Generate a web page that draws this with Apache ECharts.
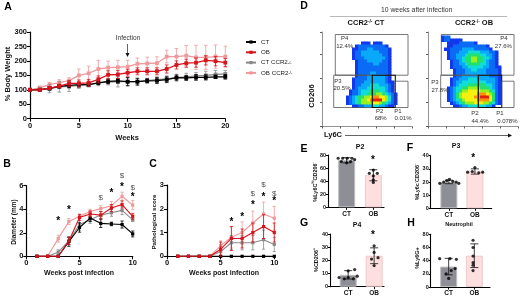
<!DOCTYPE html>
<html><head><meta charset="utf-8">
<style>html,body{margin:0;padding:0;background:#fff;overflow:hidden}#c{width:520px;height:297px;filter:blur(0.35px)}</style>
<script src="https://cdn.jsdelivr.net/npm/echarts@6/dist/echarts.min.js"></script>
</head><body><div id="c"></div>
<script>
// ---------- Panel A ----------
const weeksA=[0,1,2,3,4,5,6,7,8,9,10,11,12,13,14,15,16,17,18,19,20];
const aCT=[100,100,105,112,115,118,118,124,129,131,128,128,131,132,135,142,141,143,143,145,145];
const aCTe=[0,3,6,6,8,8,6,6,8,8,14,12,7,10,10,9,8,10,9,6,8];
const aOB=[100,100,106,113,122,122,124,136,152,153,159,164,164,164,172,186,192,194,202,199,194];
const aOBe=[0,3,5,6,10,12,12,12,14,14,12,12,12,12,14,14,14,16,16,16,14];
const aCK=[100,102,104,110,112,115,118,124,127,128,128,128,132,135,138,142,145,148,150,153,155];
const aCKe=[0,4,14,18,18,10,8,10,10,18,14,10,8,10,10,12,12,12,14,14,12];
const aOK=[100,107,118,125,132,150,157,172,177,178,180,190,191,192,215,215,218,212,212,215,215];
const aOKe=[0,6,8,10,10,22,25,30,22,24,22,20,22,22,22,28,35,42,42,40,36];
// ---------- Panel B ----------
const weeksB=[1,2,3,4,5,6,7,8,9,10];
const bCT=[0,0,0,1.25,2.45,3.25,2.8,2.75,2.7,1.9];
const bCTe=[0,0,.05,.4,.4,.3,.35,.15,.3,.25];
const bOB=[0,0,0,1.3,3.3,3.6,3.5,4.1,4.4,3.4];
const bOBe=[0,0,0,.3,.25,.25,.3,.3,.3,.25];
const bCK=[0,0,.35,1.3,2.7,3.1,3.5,3.7,3.9,3.1];
const bCKe=[0,0,.2,.3,.5,.3,.3,.3,.35,.15];
const bOK=[0,0,1.5,2.95,3.4,3.8,4.05,4.3,5.1,4.35];
const bOKe=[0,0,.3,.25,.2,.2,.25,.35,.35,.4];
const bStars=[[3,3.0],[4,3.9],[8,5.4],[9,5.9],[10,5.0]];
const bDollars=[[7,5.0],[9,6.8],[10,5.8]];
// ---------- Panel C ----------
const cCT=[0,0,0,0,0,0,0,0,0,0];
const cOB=[0,0,0,0,.3,.75,.75,1.0,1.25,1.0];
const cOBe=[0,0,0,0,.3,.5,.4,.4,.5,.4];
const cCK=[0,0,0,0,.2,.57,.57,.57,.7,.5];
const cCKe=[0,0,0,0,.2,.3,.3,.3,.4,.3];
const cOK=[0,0,0,0,.45,.8,1.0,1.4,1.78,1.6];
const cOKe=[0,0,0,0,.2,.45,.45,.5,.5,.5];
const cStars=[[6,1.45],[7,1.65],[8,2.15],[9,2.5],[10,2.3]];
const cDollars=[[8,2.65],[9,3.0],[10,2.65]];
// ---------- Panel D density levels (0-9 by row, top to bottom) ----------
const flowCT=[
".....111.111.....",
"...12222222221...",
"..1122233222221..",
"..1223333332221..",
"..1223333333221..",
"..1222333333321..",
"...122233333221..",
"...122222332221..",
"...122222222221..",
"...122222222221..",
"...122223322221..",
"...122233333321..",
"..1222233333321..",
"..12223333333211.",
"..12233344433321.",
"..12333444444321.",
".122344455544321.",
".1223445556654321",
"12345566788776421",
"12345667899976421",
"12345666677654321",
"..11223334433211."];
const flowOB=[
"122.................",
"1221111.............",
"..1111222221........",
"..11222222222221....",
".1122223333222221...",
"..12223334444333221.",
"..12233345555443321.",
"..12233455665544321.",
"...1223455665543221.",
"...1223345555443221.",
"...12223344444332211",
"....1222334433322221",
"....1222333333322221",
"....1223333333332221",
"...12233344433333321",
"...12334444444433321",
"...12344455555544321",
"..123445566665554321",
"..123456677776665421",
"..123567777788876521",
"..123567777889997521",
"..123456777788887521",
"...12345666777665421",
"....11233444444331.."];
const densityColors=['#ffffff','#1238ee','#0a6cf5','#0aa8f8','#10dcd8','#22e070','#96f020','#f6f010','#ff9010','#e42010'];
const gatesCT=[[13.3,92,86,51.3],[11.7,51.3,50.3,19],[50.3,51.3,73.3,19],[73.3,45.3,86,19]];
const gatesOB=[[13.3,92,86,51.3],[12.7,51.3,50.3,19],[50.3,51.3,73.7,19],[73.7,45.3,86,19]];
// ---------- Panels E-H ----------
const barCats=['CT','OB'];
const eMeans=[72,49], eErr=[4,8.5];
const fMeans=[20,28], fErr=[1.3,2];
const gMeans=[9,23.5], gErr=[3.2,6];
const hMeans=[31,47.5], hErr=[12.5,18];
const ePts=[[.38,75],[.55,75],[.72,75],[.9,75],[1,73],[.5,70],[.7,68],[.85,70],[1.7,57],[1.55,52],[1.85,52],[1.7,48],[1.7,42],[1.7,38]];
const fPts=[[.35,19],[.5,20],[.62,21],[.72,22],[.85,20.5],[.98,20],[1.08,19],[1.7,31],[1.42,27.5],[1.6,28],[1.85,27],[2,27.5]];
const gPts=[[.7,12],[.95,13],[.35,7],[.55,6],[.7,7],[.9,6],[1.05,8],[1.7,31],[1.7,26],[1.6,21],[1.85,22],[1.7,16]];
const hPts=[[.35,43],[.75,43],[1.0,42],[.95,28],[.8,25],[.6,20],[.7,13],[1.65,71],[1.65,60],[1.65,47],[1.65,37],[1.65,33],[1.65,25]];

const BLACK='#000', RED='#d8131b', GREY='#8a8a8a', PINK='#f0989b';
const NAMES=['CT','OB','CT CCR2','OB CCR2'];
const font='"Liberation Sans",Arial,sans-serif';
const chart=echarts.init(document.getElementById('c'),null,{renderer:'canvas'});

function valAxis(gi,min,max,iv,extra){return Object.assign({type:'value',gridIndex:gi,min,max,interval:iv,
  axisLine:{show:true,lineStyle:{color:'#000',width:1.2}},axisTick:{show:true,length:3,lineStyle:{color:'#000',width:1.1}},
  axisLabel:{show:true,color:'#111',fontFamily:font,fontWeight:'bold',fontSize:7.5,margin:3,hideOverlap:false,showMinLabel:true,showMaxLabel:true},splitLine:{show:false}},extra||{});}

function errSeries(gi,xs,ys,es,color,cap,z,lw){
  return {type:'custom',xAxisIndex:gi,yAxisIndex:gi,silent:true,z,clip:false,
    data:xs.map((x,i)=>[x,ys[i],es[i]]),encode:{x:0,y:1},
    renderItem(p,api){const x=api.value(0),y=api.value(1),e=api.value(2);
      const a=api.coord([x,y-e]),b=api.coord([x,y+e]);
      const st={stroke:color,lineWidth:lw||0.8,fill:'none'};
      return {type:'group',children:[
        {type:'line',shape:{x1:a[0],y1:a[1],x2:b[0],y2:b[1]},style:st},
        {type:'line',shape:{x1:a[0]-cap,y1:a[1],x2:a[0]+cap,y2:a[1]},style:st},
        {type:'line',shape:{x1:b[0]-cap,y1:b[1],x2:b[0]+cap,y2:b[1]},style:st}]};}};
}
function lineSeries(gi,name,xs,ys,color,z,sym,lw){
  return {type:'line',name,xAxisIndex:gi,yAxisIndex:gi,data:xs.map((x,i)=>[x,ys[i]]),z,clip:false,
    symbol:'rect',symbolSize:sym,lineStyle:{color,width:lw},itemStyle:{color},showSymbol:true,animation:false};
}
function panelLines(gi,xs,d,cap,sym,lw){
  const out=[];
  const order=[[3,PINK,2],[2,GREY,3],[0,BLACK,4],[1,RED,5]];
  order.forEach(([k,c,z])=>{
    if(d[k][1]) out.push(errSeries(gi,xs,d[k][0],d[k][1],c,cap,z,0.8));
    out.push(lineSeries(gi,NAMES[k],xs,d[k][0],c,z,sym,lw));
  });
  return out;
}
function marks(gi,pts,ch,color,size,weight){
  return {type:'custom',xAxisIndex:gi,yAxisIndex:gi,silent:true,clip:false,z:8,
    data:pts,encode:{x:0,y:1},
    renderItem(p,api){const a=api.coord([api.value(0),api.value(1)]);
      return {type:'text',x:a[0],y:a[1],style:{text:ch,fill:color,font:weight+' '+size+'px '+font,align:'center',verticalAlign:'middle'}};}};
}
function flowSeries(gi,rows,x0,y0,gates){
  const data=[];
  rows.forEach((r,ri)=>{for(let c=0;c<r.length;c++){const l=r[c]==='.'?0:+r[c];if(l>0)data.push([x0+c*3,y0-ri*3,l]);}});
  return [{type:'custom',xAxisIndex:gi,yAxisIndex:gi,silent:true,z:2,data,encode:{x:0,y:1},
    renderItem(p,api){const a=api.coord([api.value(0),api.value(1)]),b=api.coord([api.value(0)+3,api.value(1)-3]);
      return {type:'rect',shape:{x:a[0],y:a[1],width:b[0]-a[0]+.5,height:b[1]-a[1]+.5},style:{fill:densityColors[api.value(2)]}};}},
   {type:'custom',xAxisIndex:gi,yAxisIndex:gi,silent:true,z:3,data:gates,encode:{x:[0,2],y:[1,3]},
    renderItem(p,api){const a=api.coord([api.value(0),api.value(1)]),b=api.coord([api.value(2),api.value(3)]);
      return {type:'rect',shape:{x:a[0],y:a[1],width:b[0]-a[0],height:b[1]-a[1]},
        style:{fill:'none',stroke:p.dataIndex===2?'#111':'#555',lineWidth:p.dataIndex===2?1.1:0.8}};}}];
}
function barPanel(gi,means,errs,pts){
  const xs=[.7,1.7];
  return [{type:'bar',xAxisIndex:gi,yAxisIndex:gi,barWidth:17,z:2,
      data:[{value:[xs[0],means[0]],itemStyle:{color:'#8e8e96',borderColor:'#bdbdc0',borderWidth:1}},
            {value:[xs[1],means[1]],itemStyle:{color:'#fddfe0',borderColor:'#efc9c9',borderWidth:1}}]},
    errSeries(gi,xs,means,errs,'#111',4,5,0.8),
    {type:'scatter',xAxisIndex:gi,yAxisIndex:gi,symbol:'circle',symbolSize:3.2,z:6,itemStyle:{color:'#000'},data:pts}];
}
function barX(gi,max){return {type:'value',gridIndex:gi,min:0,max,
  axisLine:{show:true,lineStyle:{color:'#000',width:1.1}},splitLine:{show:false},
  axisTick:{show:true,length:2.5,customValues:[.7,1.7],lineStyle:{color:'#000'}},
  axisLabel:{show:true,customValues:[.7,1.7],formatter:v=>barCats[Math.round(v-.7)],color:'#111',fontFamily:font,fontWeight:'bold',fontSize:6.5,margin:3}};}
function barY(gi,max,iv){const a=valAxis(gi,0,max,iv);a.axisLabel.fontSize=5.5;a.axisLabel.margin=2;a.axisTick.length=2;a.axisLine.lineStyle.width=1.1;return a;}
function flowAxis(gi,max,iv){return {type:'value',gridIndex:gi,min:0,max,interval:iv,
  axisLine:{show:true,lineStyle:{color:'#777',width:.8}},axisTick:{show:true,length:2,lineStyle:{color:'#333',width:.8}},
  axisLabel:{show:false},splitLine:{show:false}};}

const grids=[
 {left:30,top:32,width:195.3,height:86.7},
 {left:26.3,top:185.7,width:106.4,height:70.6},
 {left:167,top:185,width:107.3,height:71.3},
 {left:322,top:32,width:90,height:94.5},
 {left:428,top:32,width:90,height:94.5},
 {left:328,top:155,width:56,height:52.3},
 {left:430.7,top:155.7,width:61,height:52.6},
 {left:330,top:234,width:54,height:52.7},
 {left:430.7,top:234.3,width:59.3,height:53}
].map(g=>Object.assign(g,{containLabel:false}));

const xAxis=[
 valAxis(0,0,20,5),valAxis(1,0,10,5),valAxis(2,0,10,5),
 flowAxis(3,90,18),flowAxis(4,90,18),
 barX(5,2.1),barX(6,2.346),barX(7,2.08),barX(8,2.31)];
const yAxis=[
 valAxis(0,0,300,50),valAxis(1,0,6,2),valAxis(2,0,3,1),
 flowAxis(3,94.5,24),flowAxis(4,94.5,24),
 barY(5,80,20),barY(6,40,10),barY(7,40,10),barY(8,80,20)];

const series=[
 ...panelLines(0,weeksA,[[aCT,aCTe],[aOB,aOBe],[aCK,aCKe],[aOK,aOKe]],1.8,3.8,1.3),
 ...panelLines(1,weeksB,[[bCT,bCTe],[bOB,bOBe],[bCK,bCKe],[bOK,bOKe]],1.6,3.2,1.1),
 ...panelLines(2,weeksB,[[cCT,null],[cOB,cOBe],[cCK,cCKe],[cOK,cOKe]],1.6,3.2,1.1),
 marks(1,bStars,'*','#000',10,'bold'),marks(1,bDollars,'$','#555',8,'normal'),
 marks(2,cStars,'*','#000',10,'bold'),marks(2,cDollars,'$','#555',8,'normal'),
 ...flowSeries(3,flowCT,24,85,gatesCT),
 ...flowSeries(4,flowOB,13,91,gatesOB),
 ...barPanel(5,eMeans,eErr,ePts),...barPanel(6,fMeans,fErr,fPts),
 ...barPanel(7,gMeans,gErr,gPts),...barPanel(8,hMeans,hErr,hPts)
];

function T(x,y,text,o){o=o||{};return {type:'text',x,y,rotation:o.rot||0,z:20,silent:true,
  style:{text,font:(o.w||'normal')+' '+(o.s||7)+'px '+font,fill:o.c||'#111',align:o.a||'center',verticalAlign:'middle',rich:o.rich}};}
const R90=Math.PI/2;
const sup=(s,w)=>({n:{font:(w||'bold')+' '+s+'px '+font,fill:'#111'},u:{font:(w||'bold')+' '+(s*.62)+'px '+font,fill:'#111',verticalAlign:'top',padding:[0,0,2,0]}});
const graphic=[
 ...[['A',8,7],['B',7,164],['C',153,164],['D',304,6],['E',304,149],['F',410,148],['G',304,223],['H',411,223]]
   .map(a=>T(a[1],a[2],a[0],{w:'bold',s:10.5,c:'#000'})),
 T(128,38,'Infection',{s:6.5,c:'#333'}),
 {type:'line',z:20,silent:true,shape:{x1:127.5,y1:44,x2:127.5,y2:54},style:{stroke:'#222',lineWidth:.7}},
 {type:'polygon',z:20,silent:true,shape:{points:[[125.5,53],[129.5,53],[127.5,57]]},style:{fill:'#111'}},
 T(127,138,'Weeks',{w:'bold',s:7.5}),
 T(7.5,74,'% Body Weight',{w:'bold',s:7.5,rot:R90}),
 T(14,222,'Diameter (mm)',{w:'bold',s:6.5,rot:R90}),
 T(79,273.5,'Weeks post infection',{w:'bold',s:7}),
 T(154,222,'Pathological score',{w:'bold',s:6.2,rot:R90}),
 T(224,273.5,'Weeks post infection',{w:'bold',s:7}),
 T(416.7,10,'10 weeks after infection',{s:6.8,c:'#333'}),
 {type:'line',z:20,silent:true,shape:{x1:330,y1:16.5,x2:507,y2:16.5},style:{stroke:'#999',lineWidth:.7}},
 T(366,23,'{n|CCR2}{u|-/-}{n| CT}',{rich:sup(7.5)}),
 T(474,23,'{n|CCR2}{u|-/-}{n| OB}',{rich:sup(7.5)}),
 T(312,96,'CD206',{w:'bold',s:7.5,rot:R90}),
 T(333,135,'Ly6C',{w:'bold',s:7.5}),
 {type:'line',z:20,silent:true,shape:{x1:345,y1:135.5,x2:509,y2:135.5},style:{stroke:'#222',lineWidth:.7}},
 {type:'polygon',z:20,silent:true,shape:{points:[[508,133.5],[508,137.5],[512,135.5]]},style:{fill:'#111'}},
 ...[[344.7,38,'P4'],[344.7,46,'12.4%'],[338,81.3,'P3'],[342,88.7,'20.5%'],[379.7,111.3,'P2'],[380.7,118.7,'68%'],[398,111.3,'P1'],[403,118.7,'0.01%'],
     [504,38,'P4'],[503.3,46.3,'27.6%'],[435,82.3,'P3'],[440,90,'27.8%'],[475,113.7,'P2'],[480,121.3,'44.4%'],[500,113.7,'P1'],[507.3,121.3,'0.078%']]
   .map(a=>T(a[0],a[1],a[2],{s:6,c:'#333'})),
 T(360,147,'P2',{w:'bold',s:7}),T(456,146,'P3',{w:'bold',s:7}),T(357,225,'P4',{w:'bold',s:7}),T(459,224.5,'Neutrophil',{w:'bold',s:5.5}),
 T(315,182,'{n|%Ly6C}{u|hi}{n|CD206}{u|-}',{rot:R90,rich:sup(5.5)}),
 T(417,182,'{n|%Ly6c}{u|-}{n|CD206}{u|-}',{rot:R90,rich:sup(5.5)}),
 T(316,260,'{n|%CD206}{u|+}',{rot:R90,rich:sup(5.5)}),
 T(417,258,'%Ly6G+',{rot:R90,w:'bold',s:5.5}),
 T(373,160,'*',{w:'bold',s:10,c:'#000'}),T(473.3,158.5,'*',{w:'bold',s:10,c:'#000'}),T(373,235,'*',{w:'bold',s:10,c:'#000'})
];

chart.setOption({
 animation:false,backgroundColor:'#fff',grid:grids,xAxis,yAxis,series,graphic,
 legend:{show:true,left:240,top:33.5,orient:'vertical',itemWidth:10,itemHeight:4,itemGap:3.3,selectedMode:false,
   data:NAMES,
   textStyle:{fontFamily:font,fontSize:6.2,color:'#222',lineHeight:7,
     rich:{a:{fontFamily:font,fontSize:6.2,color:'#222',lineHeight:7,height:7},b:{fontFamily:font,fontSize:4,color:'#222',lineHeight:7,height:7,verticalAlign:'top'}}},
   formatter:n=>n.includes('CCR2')?`{a|${n}}{b|-/-}`:`{a|${n}}`
   }
});
</script></body></html>
